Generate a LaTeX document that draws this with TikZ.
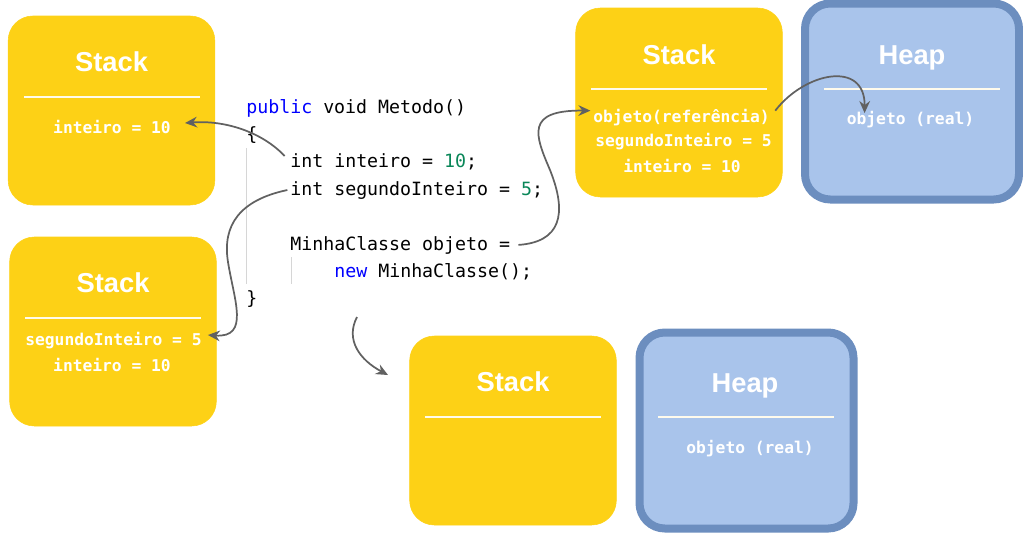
\documentclass[tikz,border=0pt]{standalone}
\usepackage{fontspec}
\usetikzlibrary{arrows.meta}
\newfontfamily\titlefont{Liberation Sans}
\newfontfamily\codefont{DejaVu Sans Mono}
\definecolor{stackyellow}{HTML}{FDD116}
\definecolor{heapfill}{HTML}{A9C4EB}
\definecolor{heapline}{HTML}{6C8EBF}
\definecolor{kwblue}{HTML}{0000FF}
\definecolor{numgreen}{HTML}{098658}
\definecolor{arrowgray}{HTML}{616161}
\definecolor{guidegray}{HTML}{D6D6D6}

\tikzset{
	stackbox/.style={fill=stackyellow, draw=stackyellow, rounded corners=18.5pt,
		minimum width=155pt, minimum height=141.75pt, inner sep=0pt},
	heapbox/.style={fill=heapfill, draw=heapline, line width=6pt, rounded corners=19pt,
		minimum width=160.5pt, minimum height=147pt, inner sep=0pt},
	boxtitle/.style={text=white, inner sep=0pt, text height=14.3pt, text depth=0pt,
		font=\titlefont\bfseries\fontsize{20.5}{24}\selectfont},
	sepline/.style={draw=white!92!stackyellow, line width=1.5pt},
	memtext/.style={text=white, inner sep=0pt, text height=11pt, text depth=2pt,
		font=\codefont\bfseries\fontsize{12.2}{19}\selectfont},
	codeline/.style={anchor=base west, inner sep=0pt, font=\codefont\fontsize{13.7}{16}\selectfont},
	guide/.style={draw=guidegray, line width=0.6pt},
	pointer/.style={draw=arrowgray, line width=1.3pt, -{Stealth[length=9pt,width=8pt]}},
}

\begin{document}
\begin{tikzpicture}[x=0.75pt,y=-0.75pt]
	\useasboundingbox (0,0) rectangle (1023,533);

	% memory boxes
	\node	(st1) at (111.5,110.5) [stackbox] {};
	\node	(st2) at (113,331.5) [stackbox] {};
	\node	(st3) at (679,102.5) [stackbox] {};
	\node	(st4) at (513,430.5) [stackbox] {};
	\node	(hp1) at (912,101.5) [heapbox] {};
	\node	(hp2) at (746.5,430.5) [heapbox] {};

	% titles
	\node	(t1) at (111.5,62) [boxtitle] {Stack};
	\node	(t2) at (113,283) [boxtitle] {Stack};
	\node	(t3) at (679,55) [boxtitle] {Stack};
	\node	(t4) at (513,382) [boxtitle] {Stack};
	\node	(t5) at (912,55) [boxtitle] {Heap};
	\node	(t6) at (745,383) [boxtitle] {Heap};

	\foreach \cx/\sy in {112/97, 113/318, 679/89, 513/417, 912/89, 746/417}
		\draw[sepline] (\cx-88,\sy) -- (\cx+88,\sy);

	% contents
	\node	(v1) at (112,127) [memtext] {inteiro = 10};
	\node	(v2a) at (113.5,339) [memtext] {segundoInteiro = 5};
	\node	(v2b) at (112,365) [memtext] {inteiro = 10};
	\node	(v3a) at (681.5,116) [memtext] {objeto(referência)};
	\node	(v3b) at (683.5,140) [memtext] {segundoInteiro = 5};
	\node	(v3c) at (682,166) [memtext] {inteiro = 10};
	\node	(hv1) at (910.5,118) [memtext] {objeto (real)};
	\node	(hv2) at (750,447) [memtext] {objeto (real)};

	% code
	\draw[guide] (246.5,148) -- (246.5,284);
	\draw[guide] (291,257) -- (291,284);
	\node	(ln1) at (246,113) [codeline] {{\color{kwblue}public} void Metodo()};
	\node	(ln2) at (246,140) [codeline] {\{};
	\node	(ln3) at (290,167) [codeline] {int inteiro = {\color{numgreen}10};};
	\node	(ln4) at (290,195) [codeline] {int segundoInteiro = {\color{numgreen}5};};
	\node	(ln5) at (290,250) [codeline] {MinhaClasse objeto =};
	\node	(ln6) at (334,277) [codeline] {{\color{kwblue}new} MinhaClasse();};
	\node	(ln7) at (246,304) [codeline] {\}};

	\coordinate (c1) at (357,317);
	\coordinate (c2) at (388,375);

	% pointers
	\draw[pointer] ([xshift=-4pt,yshift=4pt]ln3.west)
		.. controls (262,132) and (225,120) .. ([xshift=10.5pt,yshift=3pt]v1.east);
	\draw[pointer] ([xshift=-2pt]ln4.west)
		.. controls (240,200) and (222,225) .. (228,262)
		.. controls (234,300) and (250,338) .. ([xshift=4.5pt,yshift=3pt]v2a.east);
	\draw[pointer] ([xshift=6pt]ln5.east)
		.. controls (560,242) and (568,215) .. (550,170)
		.. controls (535,135) and (525,110) .. ([xshift=-2pt,yshift=4pt]v3a.west);
	\draw[pointer] ([xshift=4pt,yshift=4pt]v3a.east)
		.. controls (805,72) and (865,60) .. ([xshift=13.5pt,yshift=-3pt]hv1.north west);
	\draw[pointer] (c1) .. controls (345,340) and (360,360) .. (c2);
\end{tikzpicture}
\end{document}
